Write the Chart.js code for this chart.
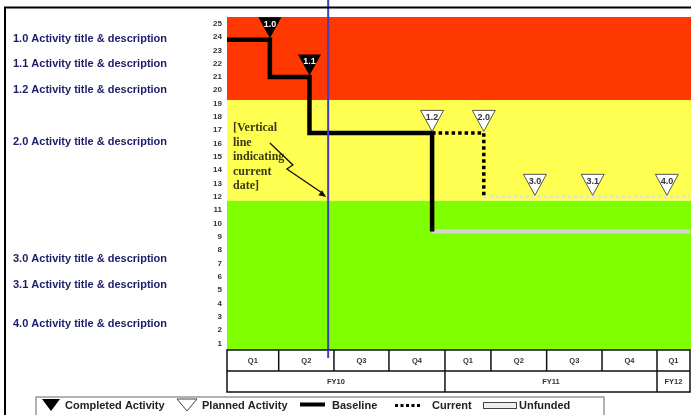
<!DOCTYPE html>
<html>
<head>
<meta charset="utf-8">
<script src="https://cdn.jsdelivr.net/npm/chart.js@4.4.1/dist/chart.umd.min.js"></script>
<style>
  html, body { margin: 0; padding: 0; background: #fff; }
  canvas { display: block; }
</style>
</head>
<body>
<canvas id="roadmap" width="691" height="415"></canvas>
<script>
// x unit = one fiscal quarter counted from the start of FY10 Q1; y = activity row (1..25)
const yTicks = [1,2,3,4,5,6,7,8,9,10,11,12,13,14,15,16,17,18,19,20,21,22,23,24,25];

const quarterLabels = ['Q1','Q2','Q3','Q4','Q1','Q2','Q3','Q4','Q1'];
const quarterEdges  = [0, 0.94, 1.945, 2.945, 3.964, 4.8, 5.813, 6.82, 7.82, 8.42];
const fyLabels = ['FY10','FY11','FY12'];
const fyEdges  = [0, 3.964, 7.82, 8.42];

// risk bands (top to bottom): red, yellow, green
const bandEdges  = [25.5, 19.27, 11.7, 0.5];
const bandColors = ['#ff3700', '#ffff52', '#7fff00'];

const activityLabels = [
  '1.0 Activity title & description',
  '1.1 Activity title & description',
  '1.2 Activity title & description',
  '2.0 Activity title & description',
  '3.0 Activity title & description',
  '3.1 Activity title & description',
  '4.0 Activity title & description'
];
const activityRows = [23.87, 21.97, 20.02, 16.09, 7.31, 5.38, 2.45];

// schedule paths (step changes)
const baselineX = [0, 0.78, 1.5, 3.73];
const baselineY = [23.8, 21, 16.8, 9.4];
const currentX  = [3.73, 4.67];
const currentY  = [16.8, 12];
const unfundedBaselineX = [3.73, 8.42];
const unfundedBaselineY = [9.4, 9.4];
const unfundedCurrentX  = [4.67, 8.42];
const unfundedCurrentY  = [12, 12];

// milestones
const milestoneLabels = ['1.0', '1.1', '1.2', '2.0', '3.0', '3.1', '4.0'];
const milestoneX      = [0.78, 1.5, 3.73, 4.67, 5.6, 6.65, 8.0];
const milestoneY      = [23.8, 21, 16.8, 16.8, 12, 12, 12];
const milestoneDone   = [true, true, false, false, false, false, false];

const todayX = 1.84;
const noteLines = ['[Vertical', 'line', 'indicating', 'current', 'date]'];

const pts = (xs, ys) => xs.map((x, i) => ({ x, y: ys[i] }));

const bandsPlugin = {
  id: 'bands',
  beforeDatasetsDraw(chart) {
    const { ctx, chartArea: a, scales: { y } } = chart;
    ctx.save();
    for (let i = 0; i < bandColors.length; i++) {
      const t = y.getPixelForValue(bandEdges[i]);
      const b = y.getPixelForValue(bandEdges[i + 1]);
      ctx.fillStyle = bandColors[i];
      ctx.fillRect(a.left, t, a.right - a.left + 1, b - t);
    }
    ctx.restore();
  }
};

function downTriangle(ctx, cx, tipY, w, h) {
  ctx.beginPath();
  ctx.moveTo(cx - w / 2, tipY - h);
  ctx.lineTo(cx + w / 2, tipY - h);
  ctx.lineTo(cx, tipY);
  ctx.closePath();
}

const overlayPlugin = {
  id: 'overlay',
  afterDatasetsDraw(chart) {
    const { ctx, chartArea: a, scales: { x, y } } = chart;
    ctx.save();

    // milestone triangles
    for (let i = 0; i < milestoneLabels.length; i++) {
      const cx = x.getPixelForValue(milestoneX[i]);
      const tip = y.getPixelForValue(milestoneY[i]) - 1.5;
      downTriangle(ctx, cx, tip, 23, 21);
      if (milestoneDone[i]) {
        ctx.fillStyle = '#000';
        ctx.fill();
      } else {
        ctx.fillStyle = '#fff';
        ctx.fill();
        ctx.strokeStyle = '#555';
        ctx.lineWidth = 1;
        ctx.stroke();
      }
      ctx.fillStyle = milestoneDone[i] ? '#fff' : '#333';
      ctx.font = 'bold 9px "Liberation Sans", Arial, sans-serif';
      ctx.textAlign = 'center';
      ctx.textBaseline = 'middle';
      ctx.fillText(milestoneLabels[i], cx, tip - 21 + 7);
    }

    // note text
    ctx.fillStyle = '#3a3a12';
    ctx.font = 'bold 12px "Liberation Serif", "Times New Roman", serif';
    ctx.textAlign = 'left';
    ctx.textBaseline = 'middle';
    const noteTop = y.getPixelForValue(17.14);
    noteLines.forEach((t, i) => ctx.fillText(t, a.left + 6, noteTop + i * 14.4));

    // zig-zag arrow toward the date line
    const sx = x.getPixelForValue(0.78), sy = y.getPixelForValue(16.04);
    const ex = x.getPixelForValue(todayX) - 2, ey = y.getPixelForValue(11.98);
    ctx.strokeStyle = '#111';
    ctx.lineWidth = 1.3;
    ctx.beginPath();
    ctx.moveTo(sx, sy);
    ctx.lineTo(sx + 23, sy + 22);
    ctx.lineTo(sx + 17, sy + 26);
    ctx.lineTo(ex - 4, ey - 4);
    ctx.stroke();
    const ang = Math.atan2(ey - (sy + 26), ex - (sx + 17));
    ctx.fillStyle = '#111';
    ctx.beginPath();
    ctx.moveTo(ex, ey);
    ctx.lineTo(ex - 8 * Math.cos(ang - 0.4), ey - 8 * Math.sin(ang - 0.4));
    ctx.lineTo(ex - 8 * Math.cos(ang + 0.4), ey - 8 * Math.sin(ang + 0.4));
    ctx.closePath();
    ctx.fill();

    // current date line
    const tx = x.getPixelForValue(todayX);
    ctx.strokeStyle = '#3f3fbf';
    ctx.lineWidth = 2;
    ctx.beginPath();
    ctx.moveTo(tx, 0);
    ctx.lineTo(tx, a.bottom + 8);
    ctx.stroke();

    ctx.restore();
  },
  afterDraw(chart) {
    const { ctx, chartArea: a, scales: { x, y } } = chart;
    ctx.save();

    // quarter / fiscal-year table
    const r0 = a.bottom, r1 = a.bottom + 21, r2 = a.bottom + 42;
    ctx.fillStyle = '#fff';
    ctx.fillRect(a.left, r0, a.right - a.left, r2 - r0);
    ctx.strokeStyle = '#111';
    ctx.lineWidth = 1.5;
    ctx.strokeRect(a.left, r0, a.right - a.left, r2 - r0);
    ctx.beginPath();
    ctx.moveTo(a.left, r1); ctx.lineTo(a.right, r1);
    for (let i = 1; i < quarterEdges.length - 1; i++) {
      const px = x.getPixelForValue(quarterEdges[i]);
      ctx.moveTo(px, r0); ctx.lineTo(px, r1);
    }
    for (let i = 1; i < fyEdges.length - 1; i++) {
      const px = x.getPixelForValue(fyEdges[i]);
      ctx.moveTo(px, r1); ctx.lineTo(px, r2);
    }
    ctx.stroke();
    ctx.fillStyle = '#333';
    ctx.font = 'bold 7.5px "Liberation Sans", Arial, sans-serif';
    ctx.textAlign = 'center';
    ctx.textBaseline = 'middle';
    quarterLabels.forEach((t, i) => {
      const c = (x.getPixelForValue(quarterEdges[i]) + x.getPixelForValue(quarterEdges[i + 1])) / 2;
      ctx.fillText(t, c, r0 + 11);
    });
    fyLabels.forEach((t, i) => {
      const c = (x.getPixelForValue(fyEdges[i]) + x.getPixelForValue(fyEdges[i + 1])) / 2;
      ctx.fillText(t, c, r1 + 11);
    });

    // the date line runs into the quarter row
    const tx = x.getPixelForValue(todayX);
    ctx.strokeStyle = '#3f3fbf';
    ctx.lineWidth = 2;
    ctx.beginPath();
    ctx.moveTo(tx, r0);
    ctx.lineTo(tx, r0 + 8);
    ctx.stroke();

    // activity titles
    ctx.fillStyle = '#1c1c6b';
    ctx.font = 'bold 11px "Liberation Sans", Arial, sans-serif';
    ctx.textAlign = 'left';
    ctx.textBaseline = 'middle';
    activityLabels.forEach((t, i) => ctx.fillText(t, 13, y.getPixelForValue(activityRows[i])));

    // legend
    const ly = 406;
    ctx.strokeStyle = '#999';
    ctx.lineWidth = 1.5;
    ctx.strokeRect(36, 397, 568, 30);
    ctx.fillStyle = '#000';
    downTriangle(ctx, 51, 411, 18, 12);
    ctx.fill();
    downTriangle(ctx, 187, 411, 20, 12);
    ctx.fillStyle = '#fff';
    ctx.fill();
    ctx.strokeStyle = '#444';
    ctx.lineWidth = 1;
    ctx.stroke();
    ctx.strokeStyle = '#000';
    ctx.lineWidth = 4;
    ctx.beginPath(); ctx.moveTo(300, 404.5); ctx.lineTo(325, 404.5); ctx.stroke();
    ctx.lineWidth = 3;
    ctx.setLineDash([3, 2.5]);
    ctx.beginPath(); ctx.moveTo(395, 405.5); ctx.lineTo(421, 405.5); ctx.stroke();
    ctx.setLineDash([]);
    ctx.fillStyle = '#eee';
    ctx.fillRect(483, 402, 33, 6);
    ctx.strokeStyle = '#444';
    ctx.lineWidth = 1;
    ctx.strokeRect(483.5, 402.5, 33, 6);
    ctx.fillStyle = '#222';
    ctx.font = 'bold 11px "Liberation Sans", Arial, sans-serif';
    ctx.textAlign = 'left';
    ctx.fillText('Completed Activity', 65, ly);
    ctx.fillText('Planned Activity', 202, ly);
    ctx.fillText('Baseline', 332, ly);
    ctx.fillText('Current', 432, ly);
    ctx.fillText('Unfunded', 519, ly);

    // outer frame
    ctx.strokeStyle = '#000';
    ctx.lineWidth = 2;
    ctx.beginPath();
    ctx.moveTo(691, 7.5); ctx.lineTo(5, 7.5); ctx.lineTo(5, 415);
    ctx.stroke();

    ctx.restore();
  }
};

new Chart(document.getElementById('roadmap'), {
  type: 'line',
  data: {
    datasets: [
      { label: 'Baseline', data: pts(baselineX, baselineY), stepped: 'before',
        borderColor: '#000', borderWidth: 4.5, borderJoinStyle: 'miter', borderCapStyle: 'butt',
        pointRadius: 0, order: 0 },
      { label: 'Current', data: pts(currentX, currentY), stepped: 'before',
        borderColor: '#000', borderWidth: 3.5, borderDash: [3.5, 3], borderCapStyle: 'butt',
        pointRadius: 0, order: 1 },
      { label: 'Unfunded', data: pts(unfundedBaselineX, unfundedBaselineY),
        borderColor: '#d4d4d4', borderWidth: 4, pointRadius: 0, order: 2 },
      { label: 'Unfunded (current)', data: pts(unfundedCurrentX, unfundedCurrentY),
        borderColor: '#e2e2e2', borderWidth: 3, borderDash: [3, 3], pointRadius: 0, order: 3 }
    ]
  },
  options: {
    responsive: false,
    animation: false,
    devicePixelRatio: 1,
    layout: { padding: { left: 200, top: 17, right: 1, bottom: 65 } },
    plugins: { legend: { display: false }, tooltip: { enabled: false } },
    scales: {
      x: { type: 'linear', min: 0, max: 8.42, display: false },
      y: {
        type: 'linear', min: 0.5, max: 25.5,
        afterFit(s) { s.width = 27; },
        afterBuildTicks(s) { s.ticks = yTicks.map(v => ({ value: v })); },
        grid: { display: false, drawTicks: false },
        border: { display: false },
        ticks: {
          padding: 5,
          color: '#333',
          font: { family: '"Liberation Sans", Arial, sans-serif', size: 8, weight: 'bold' }
        }
      }
    }
  },
  plugins: [bandsPlugin, overlayPlugin]
});
</script>
</body>
</html>
